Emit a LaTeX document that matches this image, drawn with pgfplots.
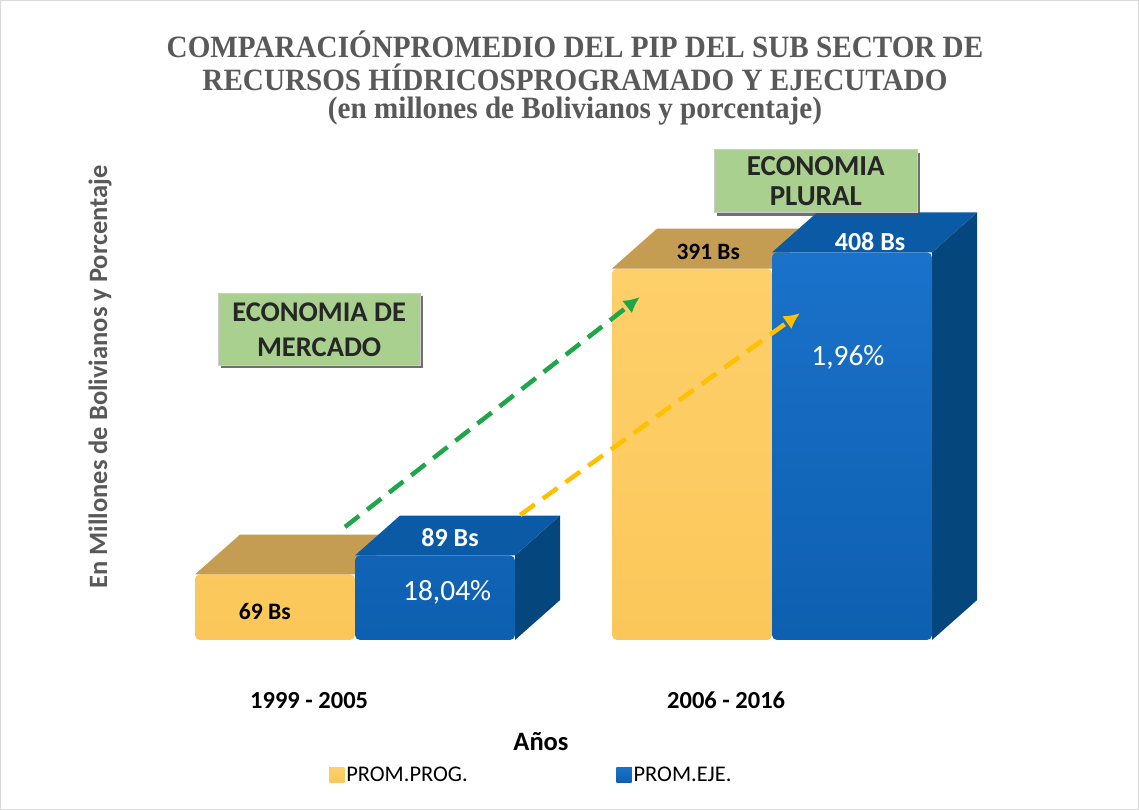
\documentclass[border=0pt]{standalone}
\usepackage{pgfplots}
\pgfplotsset{compat=1.18}
\usepackage{fontspec}
\setmainfont{Carlito}
\newfontfamily\titlefont{Liberation Serif}
\usetikzlibrary{shadows,arrows.meta}
\definecolor{goldF}{HTML}{FED06A}
\definecolor{goldFb}{HTML}{FBC75A}
\definecolor{goldT}{HTML}{C49C52}
\definecolor{blueF}{HTML}{1B72CA}
\definecolor{blueFb}{HTML}{0D5FB0}
\definecolor{blueT}{HTML}{0B5AA6}
\definecolor{blueS}{HTML}{05467D}
\definecolor{titleG}{HTML}{595959}
\definecolor{boxG}{HTML}{A9D08E}
\definecolor{arrG}{HTML}{1FA64A}
\definecolor{arrY}{HTML}{FFC000}
\begin{document}
\begin{tikzpicture}[x=1pt,y=1pt]
\useasboundingbox (0,0) rectangle (1139,810);
\fill[white] (0,0) rectangle (1139,810);
\draw[gray!30, line width=1pt] (0.5,0.5) rectangle (1138.5,809.5);
\node[font=\titlefont\bfseries\fontsize{31}{33}\selectfont, text=titleG] at (575,766) {\scalebox{0.94}[1]{COMPARACIÓNPROMEDIO DEL PIP DEL SUB SECTOR DE}};
\node[font=\titlefont\bfseries\fontsize{31}{33}\selectfont, text=titleG] at (575,733) {\scalebox{0.94}[1]{RECURSOS HÍDRICOSPROGRAMADO Y EJECUTADO}};
\node[font=\titlefont\bfseries\fontsize{31}{33}\selectfont, text=titleG] at (575,699) {\scalebox{0.94}[1]{(en millones de Bolivianos y porcentaje)}};
\node[font=\bfseries\fontsize{26.5}{30}\selectfont, text=titleG, rotate=90] at (100,433) {En Millones de Bolivianos y Porcentaje};
\begin{axis}[
  at={(188.2pt,170pt)}, anchor=south west,
  scale only axis, width=834pt, height=437pt,
  xmin=-0.4, xmax=1.6, ymin=0, ymax=460,
  axis line style={draw=none}, tick style={draw=none},
  ytick=\empty,
  xtick={-0.11,0.89},
  xticklabels={1999 - 2005, 2006 - 2016},
  typeset ticklabels with strut,
  xticklabel style={anchor=center, yshift=-63pt, font=\bfseries\fontsize{24.5}{28}\selectfont},
  clip=false,
  legend columns=2,
  legend style={at={(axis cs:-0.062,-142)}, anchor=west, draw=none, fill=none, inner sep=0pt,
    font=\fontsize{22.4}{26}\selectfont, /tikz/every even column/.append style={column sep=147pt}},
]
% gold front bars
\addplot[ybar, bar width=160pt, bar shift=-80pt, draw=none, top color=goldF, bottom color=goldFb, rounded corners=5pt,
  legend image code/.code={\fill[goldT, sharp corners] (0pt,-7.5pt) rectangle (15pt,7.5pt); \fill[goldF, sharp corners] (3pt,-4.5pt) rectangle (12pt,4.5pt);}]
  coordinates {(0,69) (1,391)};
\addlegendentry{PROM.PROG.}
% gold top faces
\addplot[fill=goldT, draw=none, forget plot] coordinates {(-0.3837,69) (0,69) (0.108,111) (-0.2758,111)} -- cycle;
\addplot[fill=goldT, draw=none, forget plot] coordinates {(0.6163,391) (1,391) (1.108,433) (0.7242,433)} -- cycle;
% blue side faces
\addplot[fill=blueS, draw=none, forget plot] coordinates {(0.3837,0) (0.3837,89) (0.4916,131) (0.4916,42)} -- cycle;
\addplot[fill=blueS, draw=none, forget plot] coordinates {(1.3837,0) (1.3837,408) (1.4916,450) (1.4916,42)} -- cycle;
% blue top faces
\addplot[fill=blueT, draw=none, forget plot] coordinates {(0,89) (0.3837,89) (0.4916,131) (0.108,131)} -- cycle;
\addplot[fill=blueT, draw=none, forget plot] coordinates {(1,408) (1.3837,408) (1.4916,450) (1.108,450)} -- cycle;
% blue front bars
\addplot[ybar, bar width=160pt, bar shift=80pt, draw=none, top color=blueF, bottom color=blueFb, rounded corners=5pt,
  legend image code/.code={\fill[blueS, sharp corners] (0pt,-7.5pt) rectangle (15pt,7.5pt); \fill[blueF, sharp corners] (0pt,7.5pt) -- (15pt,7.5pt) -- (0pt,-7.5pt) -- cycle;}]
  coordinates {(0,89) (1,408)};
\addlegendentry{PROM.EJE.}
% arrows
\draw[arrG, line width=4.5pt, dash pattern=on 18pt off 10pt, -{Latex[length=16pt,width=16pt]}] (axis cs:-0.024,119) -- (axis cs:0.683,361);
\draw[arrY, line width=4.5pt, dash pattern=on 18pt off 10pt, -{Latex[length=16pt,width=16pt]}] (axis cs:0.396,131.6) -- (axis cs:1.067,344);
% labels
\node[font=\bfseries\fontsize{23.6}{26}\selectfont] at (axis cs:-0.216,29.5) {69 Bs};
\node[font=\bfseries\fontsize{26}{28}\selectfont, text=white] at (axis cs:0.228,108) {89 Bs};
\node[font=\fontsize{29.4}{32}\selectfont, text=white] at (axis cs:0.221,50.5) {18,04\%};
\node[font=\bfseries\fontsize{23.4}{26}\selectfont] at (axis cs:0.847,408) {391 Bs};
\node[font=\bfseries\fontsize{26}{28}\selectfont, text=white] at (axis cs:1.235,419) {408 Bs};
\node[font=\fontsize{29.4}{32}\selectfont, text=white] at (axis cs:1.182,297) {1,96\%};
% boxes
\node[fill=boxG, draw=gray!40, minimum width=202pt, minimum height=72pt, align=center, inner sep=0pt,
  drop shadow={shadow xshift=3pt, shadow yshift=-3pt, fill=black!70, opacity=0.8},
  font=\bfseries\fontsize{28.5}{35}\selectfont, text=black!85] at (axis cs:-0.086,327) {ECONOMIA DE\\MERCADO};
\node[fill=boxG, draw=gray!40, minimum width=203pt, minimum height=63pt, align=center, inner sep=0pt,
  drop shadow={shadow xshift=3pt, shadow yshift=-3pt, fill=black!70, opacity=0.8},
  font=\bfseries\fontsize{29}{30}\selectfont, text=black!85] at (axis cs:1.105,483) {ECONOMIA\\PLURAL};
% x label
\node[font=\bfseries\fontsize{26.5}{30}\selectfont] at (axis cs:0.446,-107) {Años};
\end{axis}
\end{tikzpicture}
\end{document}
